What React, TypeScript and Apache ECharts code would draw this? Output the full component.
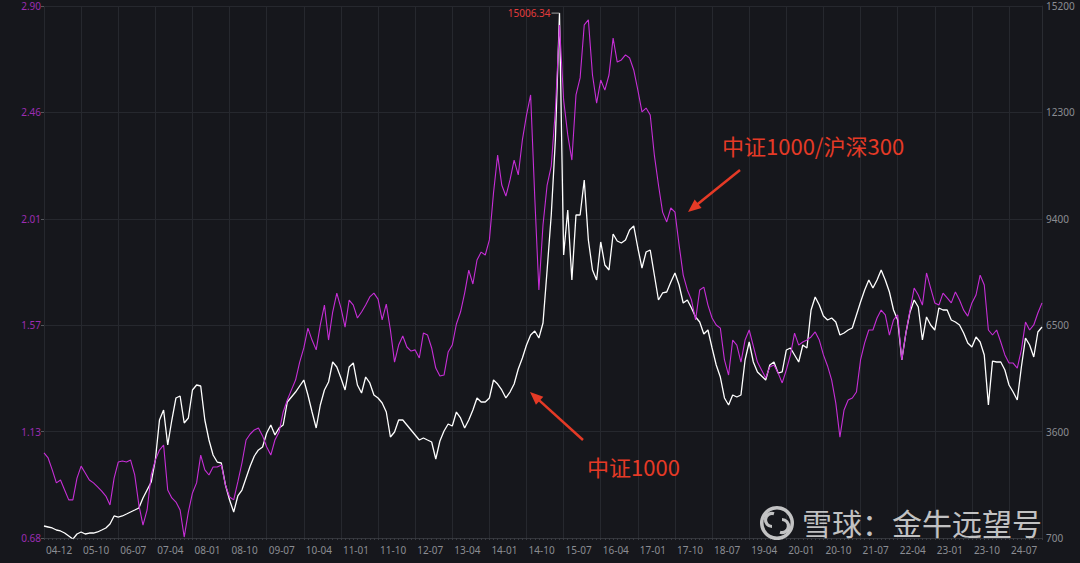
import React, { useEffect, useRef } from "react";
import * as echarts from "echarts";

// ---------- data ----------
const startYear = 2004;
const startMonth = 12;
const monthCount = 243;
const months: string[] = [];
for (let k = 0; k < monthCount; k++) {
  const m = ((startMonth - 1 + k) % 12) + 1;
  const y = startYear + Math.floor((startMonth - 1 + k) / 12);
  months.push(`${String(y % 100).padStart(2, "0")}-${String(m).padStart(2, "0")}`);
}

const xTickLabels = [
  "04-12", "05-10", "06-07", "07-04", "08-01", "08-10", "09-07", "10-04", "11-01",
  "11-10", "12-07", "13-04", "14-01", "14-10", "15-07", "16-04", "17-01", "17-10",
  "18-07", "19-04", "20-01", "20-10", "21-07", "22-04", "23-01", "23-10", "24-07",
];

const leftTickLabels = ["0.68", "1.13", "1.57", "2.01", "2.46", "2.90"];
const rightTickValues = [700, 3600, 6500, 9400, 12300, 15200];

// 中证1000 (right axis)
const csi1000 = [
  1027, 1000, 973, 918, 891, 836, 755, 669.03, 809, 864,
  809, 836, 836, 864, 918, 973, 1082, 1300, 1272, 1300,
  1354, 1409, 1463, 1518, 1790, 2008, 2226, 2826, 3916, 4189,
  3235, 3916, 4516, 4570, 3834, 3971, 4734, 4870, 4843, 3916,
  3371, 2962, 2771, 2744, 2145, 1736, 1409, 1845, 2008, 2335,
  2662, 2935, 3099, 3180, 3562, 3780, 3507, 3698, 3780, 4407,
  4543, 4679, 4843, 5006, 4598, 4134, 3698, 4325, 4734, 4952,
  5497, 5361, 5061, 4734, 5361, 5470, 4870, 4652, 5088, 4925,
  4598, 4516, 4380, 4134, 3453, 3589, 3916, 3916, 3780, 3644,
  3507, 3371, 3426, 3371, 3317, 2853, 3344, 3616, 3807, 3753,
  4134, 3971, 3698, 3916, 4189, 4516, 4407, 4407, 4516, 5006,
  4897, 4734, 4516, 4679, 4897, 5306, 5606, 5960, 6233, 6342,
  6151, 6560, 8005, 9504, 11548, 15006.34, 8413, 9640, 7732, 9504,
  9504, 10458, 8822, 8005, 7732, 8768, 8141, 8005, 8986, 8795,
  8741, 8822, 9095, 9204, 8604, 8059, 8495, 8550, 7868, 7187,
  7378, 7405, 7678, 7923, 7596, 7105, 7187, 6969, 6724, 6587,
  6260, 6369, 5879, 5415, 5088, 4516, 4325, 4598, 4543, 4598,
  5552, 6042, 5497, 5225, 5115, 5006, 5415, 5497, 5197, 5225,
  5824, 5879, 5688, 5497, 5960, 5879, 6914, 7269, 7051, 6751,
  6642, 6696, 6587, 6233, 6288, 6369, 6424, 6778, 7132, 7460,
  7732, 7514, 7732, 8005, 7732, 7405, 6914, 6642, 5552, 6288,
  6860, 7187, 6996, 6097, 6724, 6506, 6369, 6969, 6914, 6914,
  6642, 6587, 6506, 6288, 6015, 5906, 6178, 6042, 5688, 4325,
  5524, 5497, 5497, 5279, 4870, 4679, 4461, 5361, 6151, 5960,
  5633, 6315, 6451,
];

// 中证1000/沪深300 (left axis)
const ratio = [
  1.035, 1.014, 0.964, 0.91, 0.922, 0.88, 0.839, 0.839, 0.93, 0.98,
  0.951, 0.922, 0.91, 0.893, 0.876, 0.855, 0.818, 0.93, 0.997, 1.001,
  0.997, 1.005, 0.943, 0.818, 0.734, 0.797, 0.943, 1.005, 1.047, 1.068,
  0.88, 0.847, 0.83, 0.797, 0.684, 0.788, 0.868, 0.91, 1.026, 0.964,
  0.943, 0.976, 0.976, 0.985, 0.901, 0.851, 0.839, 0.914, 0.993, 1.089,
  1.114, 1.131, 1.139, 1.106, 1.06, 1.026, 1.089, 1.122, 1.206, 1.256,
  1.298, 1.339, 1.414, 1.473, 1.556, 1.506, 1.465, 1.569, 1.652, 1.506,
  1.623, 1.702, 1.64, 1.56, 1.673, 1.652, 1.598, 1.623, 1.652, 1.686,
  1.702, 1.677, 1.59, 1.656, 1.548, 1.414, 1.485, 1.523, 1.477, 1.46,
  1.465, 1.431, 1.535, 1.527, 1.473, 1.389, 1.356, 1.36, 1.456, 1.485,
  1.573, 1.623, 1.702, 1.798, 1.74, 1.84, 1.873, 1.861, 1.924, 2.12,
  2.278, 2.153, 2.107, 2.174, 2.257, 2.195, 2.341, 2.445, 2.529, 2.103,
  1.715, 1.986, 2.153, 2.232, 2.466, 2.821, 2.508, 2.362, 2.257, 2.529,
  2.6, 2.821, 2.842, 2.612, 2.495, 2.591, 2.549, 2.612, 2.766, 2.666,
  2.675, 2.696, 2.683, 2.633, 2.549, 2.458, 2.474, 2.445, 2.278, 2.153,
  2.04, 1.999, 2.057, 2.04, 1.903, 1.777, 1.715, 1.673, 1.59, 1.715,
  1.727, 1.652, 1.598, 1.569, 1.556, 1.423, 1.36, 1.506, 1.485, 1.414,
  1.506, 1.548, 1.481, 1.414, 1.381, 1.348, 1.394, 1.402, 1.369, 1.327,
  1.381, 1.444, 1.535, 1.485, 1.498, 1.506, 1.519, 1.54, 1.506, 1.444,
  1.398, 1.339, 1.243, 1.101, 1.214, 1.256, 1.264, 1.289, 1.423, 1.494,
  1.548, 1.548, 1.598, 1.631, 1.611, 1.527, 1.59, 1.611, 1.423, 1.535,
  1.631, 1.723, 1.694, 1.652, 1.786, 1.723, 1.661, 1.652, 1.702, 1.682,
  1.661, 1.707, 1.673, 1.631, 1.606, 1.661, 1.694, 1.777, 1.736, 1.548,
  1.527, 1.548, 1.498, 1.444, 1.41, 1.41, 1.389, 1.465, 1.581, 1.548,
  1.569, 1.619, 1.661,
];

const leftMin = 0.68;
const leftMax = 2.9;

// ---------- style ----------
const BG = "#16171c";
const GRID = "#26282e";
const AXIS_TXT = "#8b8d93";
const MAGENTA = "#c62ed6";
const RED = "#e53a26";
const WM = "rgba(225,225,225,0.85)";
const NUM_FONT = '"Noto Sans", "DejaVu Sans", sans-serif';
const CJK_FONT = '"Noto Sans CJK SC", "Noto Sans", sans-serif';

function arrow(x1: number, y1: number, x2: number, y2: number) {
  const dx = x2 - x1;
  const dy = y2 - y1;
  const len = Math.sqrt(dx * dx + dy * dy);
  const ux = dx / len;
  const uy = dy / len;
  const head = 13;
  const half = 5.5;
  const bx = x2 - ux * head;
  const by = y2 - uy * head;
  const nx = -uy;
  const ny = ux;
  return [
    {
      type: "line",
      shape: { x1, y1, x2: bx + ux * 2, y2: by + uy * 2 },
      style: { stroke: RED, lineWidth: 2.5 },
      z: 100,
    },
    {
      type: "polygon",
      shape: {
        points: [
          [x2, y2],
          [bx + nx * half, by + ny * half],
          [bx - nx * half, by - ny * half],
        ],
      },
      style: { fill: RED },
      z: 100,
    },
  ];
}

export default function App() {
  const ref = useRef<HTMLDivElement>(null);

  useEffect(() => {
    if (!ref.current) return;
    const chart = echarts.init(ref.current, undefined, { renderer: "svg" });

    const leftStep = (leftMax - leftMin) / (leftTickLabels.length - 1);
    const leftTickValues = leftTickLabels.map((_, k) => +(leftMin + k * leftStep).toFixed(4));

    const option: any = {
      animation: false,
      backgroundColor: BG,
      grid: { left: 44, right: 38, top: 6, bottom: 25, containLabel: false },
      xAxis: {
        type: "category",
        data: months,
        boundaryGap: false,
        axisLine: { show: true, lineStyle: { color: "#34363c" } },
        axisTick: { show: true, interval: 0, length: 2, lineStyle: { color: "#3a3c42" } },
        axisLabel: {
          interval: 8,
          color: AXIS_TXT,
          fontSize: 10,
          fontFamily: NUM_FONT,
          align: "left",
          margin: 7,
          padding: [0, 0, 0, 2],
          formatter: (_v: string, i: number) => xTickLabels[Math.round(i / 9)] ?? "",
        },
        splitLine: { show: true, interval: 8, lineStyle: { color: GRID, width: 1 } },
      },
      yAxis: [
        {
          type: "value",
          position: "left",
          min: leftMin,
          max: leftMax,
          axisLine: { show: false },
          axisTick: {
            show: true,
            length: 3,
            customValues: leftTickValues,
            lineStyle: { color: "#55575d" },
          },
          axisLabel: {
            customValues: leftTickValues,
            color: "#9c2db2",
            fontSize: 10,
            fontFamily: NUM_FONT,
            margin: 3,
            formatter: (v: number) => {
              const k = Math.round((v - leftMin) / leftStep);
              return leftTickLabels[k] ?? "";
            },
          },
          splitLine: { show: false },
        },
        {
          type: "value",
          position: "right",
          min: rightTickValues[0],
          max: rightTickValues[rightTickValues.length - 1],
          axisLine: { show: true, lineStyle: { color: "#2a2c32" } },
          axisTick: { show: false, customValues: rightTickValues },
          axisLabel: {
            customValues: rightTickValues,
            color: AXIS_TXT,
            fontSize: 10,
            fontFamily: NUM_FONT,
            margin: 4,
            formatter: (v: number) => String(Math.round(v)),
          },
          splitLine: { show: true, lineStyle: { color: GRID, width: 1 } },
        },
      ],
      series: [
        {
          name: "中证1000",
          type: "line",
          yAxisIndex: 1,
          data: csi1000,
          symbol: "none",
          lineStyle: { color: "#ffffff", width: 1.3 },
          itemStyle: { color: "#ffffff" },
          z: 3,
          markPoint: {
            symbol: "rect",
            symbolSize: [8, 1],
            silent: true,
            data: [
              {
                type: "max",
                symbolOffset: [-4, 0],
                itemStyle: { color: "#a0a0a0" },
                label: {
                  show: true,
                  position: "left",
                  distance: 1,
                  color: "#e23c3c",
                  fontSize: 10,
                  fontFamily: NUM_FONT,
                  formatter: (p: any) => Number(p.value).toFixed(2),
                },
              },
              {
                type: "min",
                symbolOffset: [5, 0],
                itemStyle: { color: "#a0a0a0" },
                label: {
                  show: true,
                  position: "right",
                  distance: 1,
                  color: "#2aa84a",
                  fontSize: 10,
                  fontFamily: NUM_FONT,
                  formatter: (p: any) => Number(p.value).toFixed(2),
                },
              },
            ],
          },
        },
        {
          name: "中证1000/沪深300",
          type: "line",
          yAxisIndex: 0,
          data: ratio,
          symbol: "none",
          lineStyle: { color: MAGENTA, width: 1.1 },
          itemStyle: { color: MAGENTA },
          z: 4,
        },
      ],
      graphic: [
        {
          type: "text",
          x: 722,
          y: 145,
          style: {
            text: "中证1000/沪深300",
            fill: RED,
            fontSize: 22,
            fontFamily: CJK_FONT,
            verticalAlign: "middle",
            align: "left",
          },
          z: 100,
        },
        ...arrow(740, 170, 688, 212),
        {
          type: "text",
          x: 587,
          y: 466,
          style: {
            text: "中证1000",
            fill: RED,
            fontSize: 22,
            fontFamily: CJK_FONT,
            verticalAlign: "middle",
            align: "left",
          },
          z: 100,
        },
        ...arrow(583, 440, 530, 392),
        // watermark
        {
          type: "ring",
          shape: { cx: 777, cy: 523, r: 17, r0: 13.5 },
          style: { fill: WM },
          z: 110,
        },
        {
          type: "arc",
          shape: { cx: 772, cy: 520, r: 6.5, startAngle: Math.PI * 0.5, endAngle: Math.PI * 1.6 },
          style: { stroke: WM, lineWidth: 3.2, fill: "none" },
          z: 110,
        },
        {
          type: "arc",
          shape: { cx: 782, cy: 526, r: 6.5, startAngle: Math.PI * 1.5, endAngle: Math.PI * 0.6 },
          style: { stroke: WM, lineWidth: 3.2, fill: "none" },
          z: 110,
        },
        {
          type: "text",
          x: 802,
          y: 522,
          style: {
            text: "雪球：金牛远望号",
            fill: WM,
            fontSize: 30,
            lineHeight: 30,
            fontFamily: CJK_FONT,
            verticalAlign: "middle",
            align: "left",
          },
          z: 110,
        },
      ],
    };

    chart.setOption(option);
    return () => chart.dispose();
  }, []);

  return (
    <div
      ref={ref}
      style={{ position: "fixed", left: 0, top: 0, width: 1080, height: 563, background: BG }}
    />
  );
}
